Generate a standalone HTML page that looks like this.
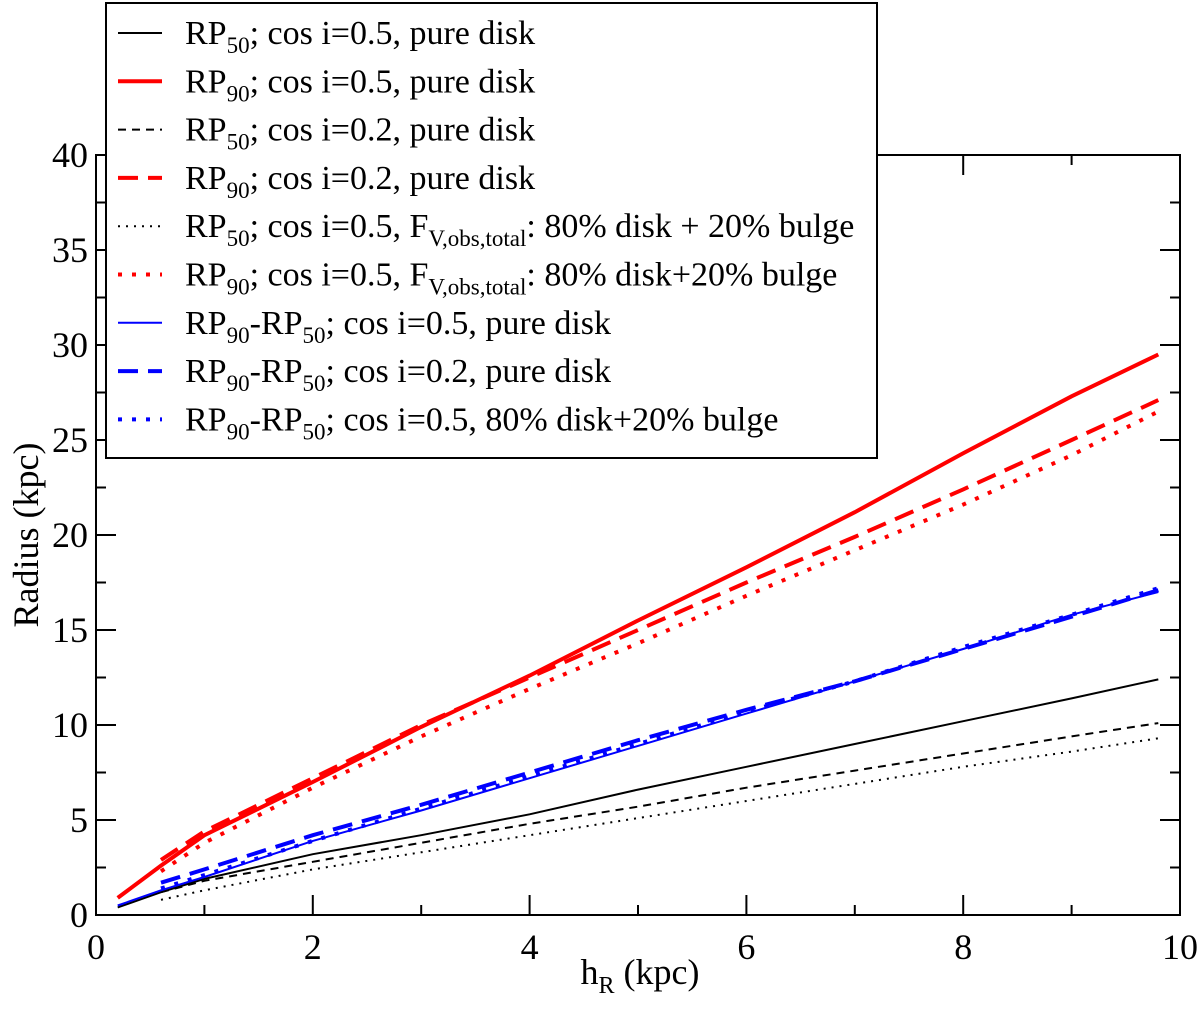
<!DOCTYPE html>
<html><head><meta charset="utf-8"><style>
html,body{margin:0;padding:0;background:#fff;}
svg, svg text{font-family:"Liberation Serif","DejaVu Serif","Times New Roman",serif;}
</style></head><body>
<svg id="chart" width="1200" height="1007" viewBox="0 0 1200 1007" font-family="Liberation Serif, DejaVu Serif, serif"></svg>
<script>
const hR_a = [0.2,0.6,1,2,3,4,5,6,7,8,9,9.8];
const hR_b = [0.6,1,2,3,4,5,6,7,8,9,9.8];
const rp50_c05 = [0.4,1.2,1.9,3.2,4.2,5.3,6.6,7.8,9.0,10.2,11.4,12.4];
const rp90_c05 = [0.9,2.6,4.2,7.0,9.9,12.6,15.5,18.3,21.2,24.3,27.3,29.5];
const rp50_c02 = [1.2,1.8,2.8,3.8,4.8,5.7,6.7,7.6,8.5,9.4,10.1];
const rp90_c02 = [2.9,4.4,7.2,10.0,12.5,15.0,17.5,19.9,22.4,25.0,27.1];
const rp50_bulge = [0.8,1.3,2.4,3.3,4.2,5.1,6.0,6.9,7.8,8.6,9.3];
const rp90_bulge = [2.3,3.8,6.7,9.4,11.9,14.3,16.8,19.2,21.6,24.2,26.5];
const diff_c05 = [0.5,1.3,2.0,3.9,5.5,7.2,8.9,10.6,12.3,14.0,15.8,17.0];
const diff_c02 = [1.7,2.4,4.2,5.8,7.5,9.2,10.8,12.3,14.0,15.7,17.1];
const diff_bulge = [1.4,2.1,3.9,5.6,7.3,9.0,10.7,12.3,14.1,15.8,17.2];
const xTicks = [0,2,4,6,8,10];
const yTicks = [0,5,10,15,20,25,30,35,40];

const NS="http://www.w3.org/2000/svg";
const svg=document.getElementById('chart');
const FONT='Liberation Serif, DejaVu Serif, serif';
const X0=96,X1=1180,Y0=915,Y1=155;
const sx=v=>X0+(v-0)/(10-0)*(X1-X0);
const sy=v=>Y0-(v-0)/(40-0)*(Y0-Y1);
function el(t,a,p){const e=document.createElementNS(NS,t);for(const k in a)e.setAttribute(k,a[k]);if(t==='text')e.setAttribute('font-family',FONT);(p||svg).appendChild(e);return e;}

const frame=el('rect',{x:X0,y:Y1,width:X1-X0,height:Y0-Y1,fill:'none',stroke:'#000','stroke-width':2});



for(let v=0;v<=10;v+=1){const maj=v%2===0;const x=sx(v);const L=maj?20:10;
 el('line',{x1:x,y1:Y0,x2:x,y2:Y0-L,stroke:'#000','stroke-width':2});
 el('line',{x1:x,y1:Y1,x2:x,y2:Y1+L,stroke:'#000','stroke-width':2});}
for(let v=0;v<=40;v+=2.5){const maj=v%5===0;const y=sy(v);const L=maj?20:10;
 el('line',{x1:X0,y1:y,x2:X0+L,y2:y,stroke:'#000','stroke-width':2});
 el('line',{x1:X1,y1:y,x2:X1-L,y2:y,stroke:'#000','stroke-width':2});}
xTicks.forEach(v=>{const t=el('text',{x:sx(v),y:Y0+44,'text-anchor':'middle','font-size':36});t.textContent=v;
 
 });
yTicks.forEach(v=>{const t=el('text',{x:X0-8,y:sy(v)+12,'text-anchor':'end','font-size':36});t.textContent=v;
 
 });

const xl=el('text',{x:640,y:984,'text-anchor':'middle','font-size':36});
xl.innerHTML='h<tspan font-size="24" dy="9">R</tspan><tspan dy="-9"> (kpc)</tspan>';


const yl=el('text',{x:0,y:0,'text-anchor':'middle','font-size':36,transform:'translate(38,535) rotate(-90)'});
yl.textContent='Radius (kpc)';



const series=[
 {n:'rp50-cos05-line',xs:hR_a,ys:rp50_c05,c:'#000',w:2,d:''},
 {n:'rp90-cos05-line',xs:hR_a,ys:rp90_c05,c:'#f00',w:4,d:''},
 {n:'rp50-cos02-line',xs:hR_b,ys:rp50_c02,c:'#000',w:2,d:'8 6'},
 {n:'rp90-cos02-line',xs:hR_b,ys:rp90_c02,c:'#f00',w:4,d:'20 10'},
 {n:'rp50-bulge-line',xs:hR_b,ys:rp50_bulge,c:'#000',w:2,d:'2 6'},
 {n:'rp90-bulge-line',xs:hR_b,ys:rp90_bulge,c:'#f00',w:4,d:'4 10'},
 {n:'diff-cos05-line',xs:hR_a,ys:diff_c05,c:'#00f',w:2,d:''},
 {n:'diff-cos02-line',xs:hR_b,ys:diff_c02,c:'#00f',w:4,d:'20 10'},
 {n:'diff-bulge-line',xs:hR_b,ys:diff_bulge,c:'#00f',w:4,d:'4 10'}];
series.forEach(s=>{const pts=s.xs.map((x,i)=>sx(x).toFixed(1)+','+sy(s.ys[i]).toFixed(1)).join(' ');
 const p=el('polyline',{points:pts,fill:'none',stroke:s.c,'stroke-width':s.w,'stroke-dasharray':s.d});
 
 });

const lg=el('g',{});


el('rect',{x:106,y:3,width:771,height:455,fill:'#fff',stroke:'#000','stroke-width':2},lg);
const labels=[
 'RP<tspan font-size="23" dy="9">50</tspan><tspan dy="-9">; cos i=0.5, pure disk</tspan>',
 'RP<tspan font-size="23" dy="9">90</tspan><tspan dy="-9">; cos i=0.5, pure disk</tspan>',
 'RP<tspan font-size="23" dy="9">50</tspan><tspan dy="-9">; cos i=0.2, pure disk</tspan>',
 'RP<tspan font-size="23" dy="9">90</tspan><tspan dy="-9">; cos i=0.2, pure disk</tspan>',
 'RP<tspan font-size="23" dy="9">50</tspan><tspan dy="-9">; cos i=0.5, F</tspan><tspan font-size="23" dy="9">V,obs,total</tspan><tspan dy="-9">: 80% disk + 20% bulge</tspan>',
 'RP<tspan font-size="23" dy="9">90</tspan><tspan dy="-9">; cos i=0.5, F</tspan><tspan font-size="23" dy="9">V,obs,total</tspan><tspan dy="-9">: 80% disk+20% bulge</tspan>',
 'RP<tspan font-size="23" dy="9">90</tspan><tspan dy="-9">-RP</tspan><tspan font-size="23" dy="9">50</tspan><tspan dy="-9">; cos i=0.5, pure disk</tspan>',
 'RP<tspan font-size="23" dy="9">90</tspan><tspan dy="-9">-RP</tspan><tspan font-size="23" dy="9">50</tspan><tspan dy="-9">; cos i=0.2, pure disk</tspan>',
 'RP<tspan font-size="23" dy="9">90</tspan><tspan dy="-9">-RP</tspan><tspan font-size="23" dy="9">50</tspan><tspan dy="-9">; cos i=0.5, 80% disk+20% bulge</tspan>'];
series.forEach((s,i)=>{const y=33+i*48.3;
 const l=el('line',{x1:118,y1:y,x2:162,y2:y,stroke:s.c,'stroke-width':s.w,'stroke-dasharray':s.d},lg);
 
 
 const t=el('text',{x:185,y:y+11,'font-size':34},lg);t.innerHTML=labels[i];
 
 });
</script>
</body></html>
